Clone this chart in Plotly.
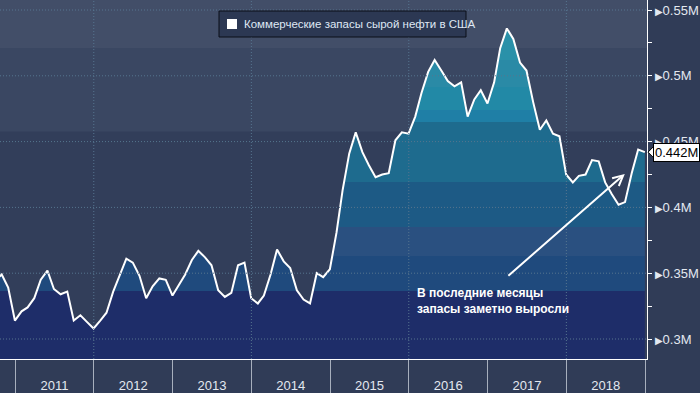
import plotly.graph_objects as go
import pandas as pd

# ---------------- data ----------------
month_ends = pd.date_range("2010-09-30", "2018-12-31", freq=pd.offsets.MonthEnd())
stocks = [
    0.344, 0.349, 0.339,
    0.314, 0.321, 0.324, 0.331, 0.345, 0.352, 0.338, 0.334, 0.336, 0.314, 0.318, 0.313,
    0.308, 0.314, 0.320, 0.336, 0.349, 0.361, 0.358, 0.348, 0.331, 0.340, 0.346, 0.345,
    0.333, 0.341, 0.349, 0.360, 0.367, 0.362, 0.356, 0.337, 0.332, 0.335, 0.356, 0.358,
    0.331, 0.327, 0.333, 0.349, 0.368, 0.359, 0.354, 0.337, 0.330, 0.327, 0.350, 0.347,
    0.353, 0.381, 0.413, 0.441, 0.457, 0.442, 0.432, 0.423, 0.425, 0.426, 0.451, 0.457,
    0.456, 0.469, 0.487, 0.503, 0.512, 0.504, 0.496, 0.492, 0.495, 0.469, 0.482, 0.489,
    0.479, 0.495, 0.521, 0.536, 0.528, 0.510, 0.504, 0.480, 0.459, 0.466, 0.456, 0.454,
    0.425, 0.419, 0.424, 0.425, 0.436, 0.435, 0.419, 0.410, 0.402, 0.404, 0.426, 0.444,
    0.442,
]
series_name = "Коммерческие запасы сырой нефти в США"
y_tick_values = [0.30, 0.35, 0.40, 0.45, 0.50, 0.55]
y_tick_labels = ["0.3M", "0.35M", "0.4M", "0.45M", "0.5M", "0.55M"]
y_minor_values = [0.325, 0.375, 0.425, 0.475, 0.525]
grid_years = ["2012-01-01", "2014-01-01", "2016-01-01", "2018-01-01"]
callout_text = "В последние месяцы<br>запасы заметно выросли"

# ---------------- style ----------------
FONT = "Liberation Sans, Arial, sans-serif"
TEXT = "#e3e8f0"
PLOT_W, PLOT_H = 647, 359
Y_MIN, Y_MAX = 0.2848, 0.5576
X_RANGE = ["2010-10-23", "2019-01-10"]
GRID = "#56758f"

bg_bands = [(0.4576, 0.5211, "#3a4762"), (0.5211, Y_MAX, "#424e68")]
fill_edges = [0.3365, 0.3631, 0.3851, 0.4193, 0.4649, 0.4740, 0.4915, 0.5120]
fill_colors = ["#1e2d69", "#1f4a7d", "#2a5080", "#1d5a85", "#1e6b8e",
               "#1f7fa6", "#2289a6", "#2a8aa6", "#2a91a9"]


def frac(v):
    return (v - Y_MIN) / (Y_MAX - Y_MIN)


colorscale = []
lo = 0.0
for i, c in enumerate(fill_colors):
    hi = frac(fill_edges[i]) if i < len(fill_edges) else 1.0
    colorscale.append([lo, c])
    colorscale.append([hi, c])
    lo = hi

fig = go.Figure()
fig.add_trace(go.Scatter(
    x=month_ends, y=stocks, mode="lines", name=series_name,
    line=dict(color="white", width=2),
    fill="tozeroy",
    fillgradient=dict(type="vertical", colorscale=colorscale, start=Y_MIN, stop=Y_MAX),
    showlegend=False, hoverinfo="skip",
))

shapes = []
for y0, y1, c in bg_bands:
    shapes.append(dict(type="rect", xref="paper", yref="y", x0=0, x1=1, y0=y0, y1=y1,
                       fillcolor=c, line=dict(width=0), layer="below"))
for v in y_tick_values:
    shapes.append(dict(type="line", xref="paper", yref="y", x0=0, x1=1, y0=v, y1=v,
                       line=dict(color=GRID, width=1, dash="1px,2px"), layer="above"))
for d in grid_years:
    shapes.append(dict(type="line", xref="x", yref="paper", x0=d, x1=d, y0=0, y1=1,
                       line=dict(color=GRID, width=1, dash="1px,2px"), layer="above"))

# legend box
shapes.append(dict(type="rect", xref="paper", yref="paper",
                   x0=219 / PLOT_W, x1=466 / PLOT_W, y0=1 - 37 / PLOT_H, y1=1 - 11 / PLOT_H,
                   fillcolor="#2c3853", line=dict(color="#0b0f18", width=1), layer="above"))
shapes.append(dict(type="rect", xref="paper", yref="paper",
                   x0=227 / PLOT_W, x1=237 / PLOT_W, y0=1 - 29 / PLOT_H, y1=1 - 19 / PLOT_H,
                   fillcolor="white", line=dict(width=0), layer="above"))

# pointer of last-value label
last = stocks[-1]
ppx = (Y_MAX - Y_MIN) / PLOT_H
shapes.append(dict(type="path", xref="paper", yref="y",
                   path=f"M {1 + 1 / PLOT_W},{last} L {1 + 7 / PLOT_W},{last + 6 * ppx} "
                        f"L {1 + 7 / PLOT_W},{last - 6 * ppx} Z",
                   fillcolor="white", line=dict(color="black", width=1), layer="above"))

annotations = [
    dict(xref="paper", yref="paper", x=242 / PLOT_W, y=1 - 24 / PLOT_H, xanchor="left",
         yanchor="middle", text=series_name, showarrow=False,
         font=dict(family=FONT, size=11.5, color="#dfe7f3")),
    dict(x="2016-01-30", y=0.3285, xref="x", yref="y", xanchor="left", yanchor="middle",
         align="left", text=f"<b>{callout_text}</b>", showarrow=False,
         font=dict(family=FONT, size=12, color="white")),
    dict(x="2018-09-29", y=0.4254, xref="x", yref="y", ax="2017-03-31", ay=0.3471,
         axref="x", ayref="y", text="", showarrow=True, arrowhead=5, arrowsize=1,
         arrowwidth=2, arrowcolor="white"),
    dict(xref="paper", yref="y", x=1, y=last, xanchor="left", yanchor="middle", xshift=6,
         text=f"{last:.3f}M", showarrow=False, bgcolor="white", bordercolor="black",
         borderwidth=1, borderpad=1, font=dict(family=FONT, size=13, color="black")),
]

fig.update_layout(
    width=700, height=393, margin=dict(l=0, r=53, t=0, b=34),
    paper_bgcolor="#303c57", plot_bgcolor="#323e5a",
    showlegend=False, font=dict(family=FONT, size=13, color=TEXT),
    shapes=shapes, annotations=annotations,
)
fig.update_xaxes(
    type="date", range=X_RANGE, dtick="M12", tick0="2011-01-01", tickformat="%Y",
    ticklabelmode="period", ticks="outside", ticklen=34, tickwidth=1, tickcolor="#a7afbd",
    ticklabelstandoff=-20, showline=True, linecolor="white", linewidth=1,
    showgrid=False, zeroline=False, tickfont=dict(family=FONT, size=13, color=TEXT),
)
fig.update_yaxes(
    side="right", range=[Y_MIN, Y_MAX], tickmode="array", tickvals=y_tick_values,
    ticktext=["<span style='font-size:10px'>▶</span>" + t for t in y_tick_labels],
    ticks="outside", ticklen=4, tickcolor="white", showline=True, linecolor="white",
    linewidth=1, showgrid=False, zeroline=False,
    minor=dict(tickvals=y_minor_values, ticks="outside", ticklen=4, tickcolor="white"),
    tickfont=dict(family=FONT, size=13, color=TEXT),
)

fig.write_html("out.html", config={"displayModeBar": False},
               post_script="document.body.style.margin='0';")
